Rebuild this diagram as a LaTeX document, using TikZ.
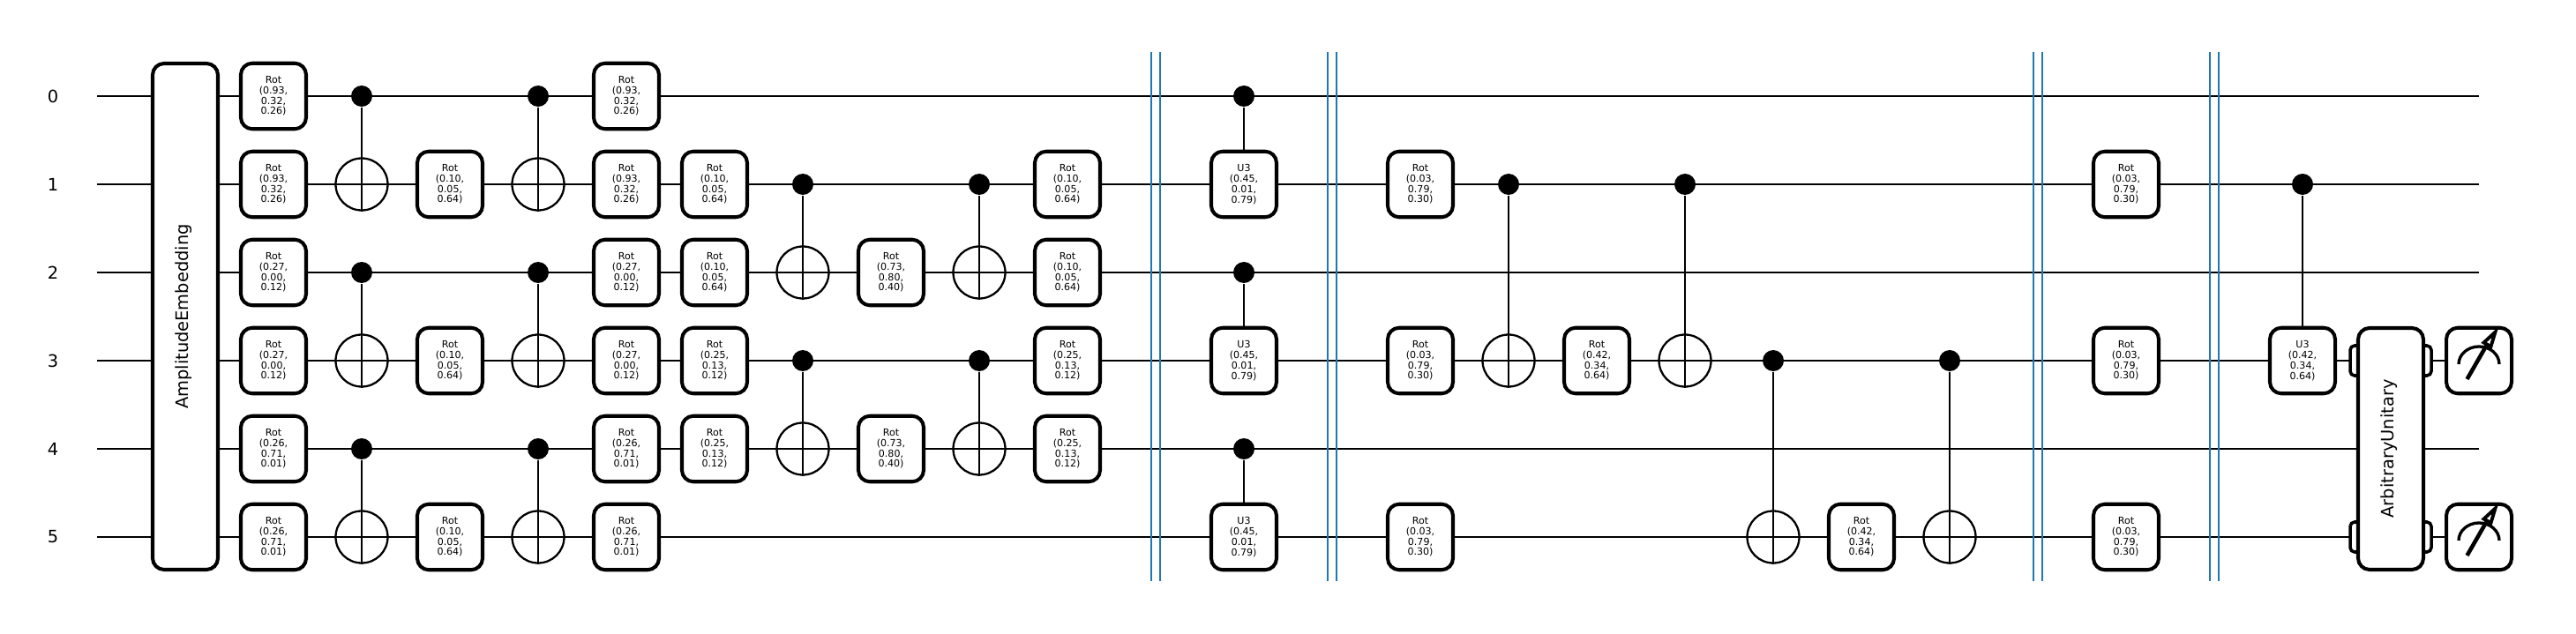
\documentclass[tikz,border=0pt]{standalone}
\usepackage{fontspec}
\setmainfont{DejaVu Sans}
\begin{document}
\begin{tikzpicture}[
	wire/.style={line width=0.6pt},
	vline/.style={line width=0.6pt},
	barrier/.style={line width=0.6pt, draw={rgb,255:red,31;green,119;blue,180}},
	wlabel/.style={inner sep=0pt, font=\fontsize{5.53}{6}\selectfont},
	gate/.style={draw, fill=white, line width=1.15pt, rounded corners=0.13cm, minimum width=0.74cm, minimum height=0.745cm, inner sep=0pt, align=center, font=\fontsize{3.15}{3.35}\selectfont, execute at begin node={\vspace*{0.85pt}}},
	tall/.style={draw, fill=white, line width=1.15pt, rounded corners=0.13cm, minimum height=0.74cm, inner sep=0pt, rotate=90, text depth=2.05pt, font=\fontsize{5.53}{6}\selectfont},
	tab/.style={draw, fill=white, line width=1pt, rounded corners=0.05cm, minimum width=0.92cm, minimum height=0.34cm, inner sep=0pt},
	ctrl/.style={circle, fill=black, inner sep=0pt, minimum size=0.24cm},
	target/.style={circle, draw, line width=0.65pt, inner sep=0pt, minimum size=0.59cm},
	meter/.style={line width=0.95pt},
	shaft/.style={line width=1.3pt},
	head/.style={line width=1.1pt, fill=white, line join=miter}]
	\useasboundingbox (-2.1,1.09) rectangle (27.1,-6.1);

	% wire ends
	\coordinate (s0) at (-1,0);
	\coordinate (s1) at (-1,-1);
	\coordinate (s2) at (-1,-2);
	\coordinate (s3) at (-1,-3);
	\coordinate (s4) at (-1,-4);
	\coordinate (s5) at (-1,-5);
	\coordinate (e0) at (26,0);
	\coordinate (e1) at (26,-1);
	\coordinate (e2) at (26,-2);
	\coordinate (e3) at (26,-3);
	\coordinate (e4) at (26,-4);
	\coordinate (e5) at (26,-5);
	\draw[wire] (s0) -- (e0);
	\draw[wire] (s1) -- (e1);
	\draw[wire] (s2) -- (e2);
	\draw[wire] (s3) -- (e3);
	\draw[wire] (s4) -- (e4);
	\draw[wire] (s5) -- (e5);

	% barriers
	\coordinate (b1a) at (10.95,0.5);
	\coordinate (b1b) at (10.95,-5.5);
	\coordinate (b2a) at (11.05,0.5);
	\coordinate (b2b) at (11.05,-5.5);
	\coordinate (b3a) at (12.95,0.5);
	\coordinate (b3b) at (12.95,-5.5);
	\coordinate (b4a) at (13.05,0.5);
	\coordinate (b4b) at (13.05,-5.5);
	\coordinate (b5a) at (20.95,0.5);
	\coordinate (b5b) at (20.95,-5.5);
	\coordinate (b6a) at (21.05,0.5);
	\coordinate (b6b) at (21.05,-5.5);
	\coordinate (b7a) at (22.95,0.5);
	\coordinate (b7b) at (22.95,-5.5);
	\coordinate (b8a) at (23.05,0.5);
	\coordinate (b8b) at (23.05,-5.5);
	\draw[barrier] (b1a) -- (b1b);
	\draw[barrier] (b2a) -- (b2b);
	\draw[barrier] (b3a) -- (b3b);
	\draw[barrier] (b4a) -- (b4b);
	\draw[barrier] (b5a) -- (b5b);
	\draw[barrier] (b6a) -- (b6b);
	\draw[barrier] (b7a) -- (b7b);
	\draw[barrier] (b8a) -- (b8b);

	% wire labels
	\node (l0) at (-1.5,0) [wlabel] {0};
	\node (l1) at (-1.5,-1) [wlabel] {1};
	\node (l2) at (-1.5,-2) [wlabel] {2};
	\node (l3) at (-1.5,-3) [wlabel] {3};
	\node (l4) at (-1.5,-4) [wlabel] {4};
	\node (l5) at (-1.5,-5) [wlabel] {5};

	% embedding
	\node (emb) at (0,-2.5) [tall, minimum width=5.74cm] {AmplitudeEmbedding};

	% first layer
	\node (r1w0) at (1,0) [gate] {Rot\\(0.93,\\0.32,\\0.26)};
	\node (r1w1) at (1,-1) [gate] {Rot\\(0.93,\\0.32,\\0.26)};
	\node (r1w2) at (1,-2) [gate] {Rot\\(0.27,\\0.00,\\0.12)};
	\node (r1w3) at (1,-3) [gate] {Rot\\(0.27,\\0.00,\\0.12)};
	\node (r1w4) at (1,-4) [gate] {Rot\\(0.26,\\0.71,\\0.01)};
	\node (r1w5) at (1,-5) [gate] {Rot\\(0.26,\\0.71,\\0.01)};
	\node (c2w0) at (2,0) [ctrl] {};
	\node (t2w1) at (2,-1) [target] {};
	\node (c2w2) at (2,-2) [ctrl] {};
	\node (t2w3) at (2,-3) [target] {};
	\node (c2w4) at (2,-4) [ctrl] {};
	\node (t2w5) at (2,-5) [target] {};
	\node (r3w1) at (3,-1) [gate] {Rot\\(0.10,\\0.05,\\0.64)};
	\node (r3w3) at (3,-3) [gate] {Rot\\(0.10,\\0.05,\\0.64)};
	\node (r3w5) at (3,-5) [gate] {Rot\\(0.10,\\0.05,\\0.64)};
	\node (c4w0) at (4,0) [ctrl] {};
	\node (t4w1) at (4,-1) [target] {};
	\node (c4w2) at (4,-2) [ctrl] {};
	\node (t4w3) at (4,-3) [target] {};
	\node (c4w4) at (4,-4) [ctrl] {};
	\node (t4w5) at (4,-5) [target] {};
	\node (r5w0) at (5,0) [gate] {Rot\\(0.93,\\0.32,\\0.26)};
	\node (r5w1) at (5,-1) [gate] {Rot\\(0.93,\\0.32,\\0.26)};
	\node (r5w2) at (5,-2) [gate] {Rot\\(0.27,\\0.00,\\0.12)};
	\node (r5w3) at (5,-3) [gate] {Rot\\(0.27,\\0.00,\\0.12)};
	\node (r5w4) at (5,-4) [gate] {Rot\\(0.26,\\0.71,\\0.01)};
	\node (r5w5) at (5,-5) [gate] {Rot\\(0.26,\\0.71,\\0.01)};

	% second layer
	\node (r6w1) at (6,-1) [gate] {Rot\\(0.10,\\0.05,\\0.64)};
	\node (r6w2) at (6,-2) [gate] {Rot\\(0.10,\\0.05,\\0.64)};
	\node (r6w3) at (6,-3) [gate] {Rot\\(0.25,\\0.13,\\0.12)};
	\node (r6w4) at (6,-4) [gate] {Rot\\(0.25,\\0.13,\\0.12)};
	\node (c7w1) at (7,-1) [ctrl] {};
	\node (t7w2) at (7,-2) [target] {};
	\node (c7w3) at (7,-3) [ctrl] {};
	\node (t7w4) at (7,-4) [target] {};
	\node (r8w2) at (8,-2) [gate] {Rot\\(0.73,\\0.80,\\0.40)};
	\node (r8w4) at (8,-4) [gate] {Rot\\(0.73,\\0.80,\\0.40)};
	\node (c9w1) at (9,-1) [ctrl] {};
	\node (t9w2) at (9,-2) [target] {};
	\node (c9w3) at (9,-3) [ctrl] {};
	\node (t9w4) at (9,-4) [target] {};
	\node (r10w1) at (10,-1) [gate] {Rot\\(0.10,\\0.05,\\0.64)};
	\node (r10w2) at (10,-2) [gate] {Rot\\(0.10,\\0.05,\\0.64)};
	\node (r10w3) at (10,-3) [gate] {Rot\\(0.25,\\0.13,\\0.12)};
	\node (r10w4) at (10,-4) [gate] {Rot\\(0.25,\\0.13,\\0.12)};

	% controlled U3
	\node (c12w0) at (12,0) [ctrl] {};
	\node (u12w1) at (12,-1) [gate] {U3\\(0.45,\\0.01,\\0.79)};
	\node (c12w2) at (12,-2) [ctrl] {};
	\node (u12w3) at (12,-3) [gate] {U3\\(0.45,\\0.01,\\0.79)};
	\node (c12w4) at (12,-4) [ctrl] {};
	\node (u12w5) at (12,-5) [gate] {U3\\(0.45,\\0.01,\\0.79)};

	% third layer
	\node (r14w1) at (14,-1) [gate] {Rot\\(0.03,\\0.79,\\0.30)};
	\node (r14w3) at (14,-3) [gate] {Rot\\(0.03,\\0.79,\\0.30)};
	\node (r14w5) at (14,-5) [gate] {Rot\\(0.03,\\0.79,\\0.30)};
	\node (c15w1) at (15,-1) [ctrl] {};
	\node (t15w3) at (15,-3) [target] {};
	\node (r16w3) at (16,-3) [gate] {Rot\\(0.42,\\0.34,\\0.64)};
	\node (c17w1) at (17,-1) [ctrl] {};
	\node (t17w3) at (17,-3) [target] {};
	\node (c18w3) at (18,-3) [ctrl] {};
	\node (t18w5) at (18,-5) [target] {};
	\node (r19w5) at (19,-5) [gate] {Rot\\(0.42,\\0.34,\\0.64)};
	\node (c20w3) at (20,-3) [ctrl] {};
	\node (t20w5) at (20,-5) [target] {};

	% last layer
	\node (r22w1) at (22,-1) [gate] {Rot\\(0.03,\\0.79,\\0.30)};
	\node (r22w3) at (22,-3) [gate] {Rot\\(0.03,\\0.79,\\0.30)};
	\node (r22w5) at (22,-5) [gate] {Rot\\(0.03,\\0.79,\\0.30)};
	\node (c24w1) at (24,-1) [ctrl] {};
	\node (u24w3) at (24,-3) [gate] {U3\\(0.42,\\0.34,\\0.64)};

	% unitary with its two tabs
	\node (tab3) at (25,-3) [tab] {};
	\node (tab5) at (25,-5) [tab] {};
	\node (arb) at (25,-4) [tall, minimum width=2.74cm] {ArbitraryUnitary};

	% measurements
	\node (m3) at (26,-3) [gate] {};
	\node (m5) at (26,-5) [gate] {};
	\draw[meter] ([shift={(-0.23,-0.04)}]m3.center) arc[start angle=180, end angle=0, x radius=0.23, y radius=0.2];
	\draw[shaft] ([shift={(-0.135,-0.21)}]m3.center) -- ([shift={(0.095,0.19)}]m3.center);
	\draw[head] ([shift={(0.185,0.325)}]m3.center) -- ([shift={(0.055,0.205)}]m3.center) -- ([shift={(0.135,0.16)}]m3.center) -- cycle;
	\draw[meter] ([shift={(-0.23,-0.04)}]m5.center) arc[start angle=180, end angle=0, x radius=0.23, y radius=0.2];
	\draw[shaft] ([shift={(-0.135,-0.21)}]m5.center) -- ([shift={(0.095,0.19)}]m5.center);
	\draw[head] ([shift={(0.185,0.325)}]m5.center) -- ([shift={(0.055,0.205)}]m5.center) -- ([shift={(0.135,0.16)}]m5.center) -- cycle;

	% control lines
	\draw[vline] (c2w0) -- (t2w1.south);
	\draw[vline] (c2w2) -- (t2w3.south);
	\draw[vline] (c2w4) -- (t2w5.south);
	\draw[vline] (c4w0) -- (t4w1.south);
	\draw[vline] (c4w2) -- (t4w3.south);
	\draw[vline] (c4w4) -- (t4w5.south);
	\draw[vline] (c7w1) -- (t7w2.south);
	\draw[vline] (c7w3) -- (t7w4.south);
	\draw[vline] (c9w1) -- (t9w2.south);
	\draw[vline] (c9w3) -- (t9w4.south);
	\draw[vline] (c12w0) -- (u12w1);
	\draw[vline] (c12w2) -- (u12w3);
	\draw[vline] (c12w4) -- (u12w5);
	\draw[vline] (c15w1) -- (t15w3.south);
	\draw[vline] (c17w1) -- (t17w3.south);
	\draw[vline] (c18w3) -- (t18w5.south);
	\draw[vline] (c20w3) -- (t20w5.south);
	\draw[vline] (c24w1) -- (u24w3);

\end{tikzpicture}
\end{document}
